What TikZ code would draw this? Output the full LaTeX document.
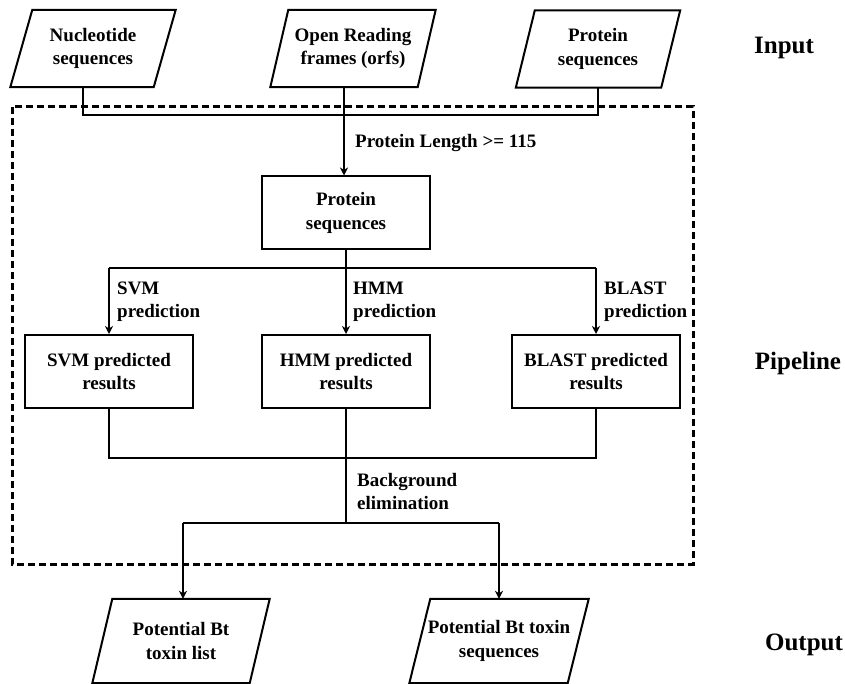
\documentclass[tikz,border=0pt]{standalone}
\usepackage{fontspec}
\setmainfont{Liberation Serif}
\usetikzlibrary{arrows.meta}
\begin{document}
\begin{tikzpicture}[x=1pt,y=-1pt,
  txt/.style={font=\fontsize{19}{23.5}\selectfont\bfseries, align=center, inner sep=0pt},
  lbl/.style={font=\fontsize{19}{23}\selectfont\bfseries, align=left, anchor=west, inner sep=0pt},
  side/.style={font=\fontsize{25}{30}\selectfont\bfseries, inner sep=0pt},
  para/.style={txt, rectangle, minimum height=77pt},
  boxn/.style={txt, rectangle, draw, line width=2pt, minimum width=168pt, minimum height=73pt},
  conn/.style={line width=2pt},
  arr/.style={line width=2pt, -{Stealth[length=8pt,width=8pt,inset=2.5pt]}},
  dashbox/.style={line width=3pt, dash pattern=on 7pt off 4pt},
  outline/.style={line width=2pt, line join=miter}
]
\useasboundingbox (0,0) rectangle (845,684);

% dashed pipeline frame
\draw[dashbox] (12,107) rectangle (693,564);

% input parallelograms
\node[para, minimum width=143pt] (nuc) at (93,48.5) {Nucleotide\\sequences};
\node[para, minimum width=147pt] (orf) at (353,48.5) {Open Reading\\frames (orfs)};
\node[para, minimum width=145pt] (prot) at (598,49) {Protein\\sequences};

% output parallelograms
\node[para, minimum width=157pt, minimum height=84pt] (outA) at (181,641) {Potential Bt\\toxin list};
\node[para, minimum width=158pt, minimum height=84pt] (outB) at (499,641) {Potential Bt toxin\\sequences};

\foreach \n/\s in {nuc/11, orf/9, prot/9.5, outA/10, outB/10.5}
  \draw[outline] ([xshift=-\s pt]\n.south west) -- ([xshift=-\s pt]\n.south east)
    -- ([xshift=\s pt]\n.north east) -- ([xshift=\s pt]\n.north west) -- cycle;

% pipeline boxes
\node[boxn] (pbox) at (346,213) {Protein\\sequences};
\node[boxn] (svm) at (109,371.5) {SVM predicted\\results};
\node[boxn] (hmm) at (346,371.5) {HMM predicted\\results};
\node[boxn] (blast) at (596,371.5) {BLAST predicted\\results};

% side labels
\node[side] (input) at (784,48) {Input};
\node[side] (pipe) at (798,363) {Pipeline};
\node[side] (output) at (804,645) {Output};

% input merge
\coordinate (jl) at (83,115);
\coordinate (jr) at (598,115);
\draw[conn] ([xshift=-10pt]nuc.south) -- (jl) -- (jr) -- (prot.south);
\draw[arr] ([xshift=-9pt]orf.south) -- ([xshift=-9pt]orf.south |- pbox.north);
\node[lbl] (lenlbl) at (355,143) {Protein Length >= 115};

% branch to predictors
\coordinate (br) at (346,268);
\draw[conn] (pbox.south) -- (br);
\draw[conn] (svm.north |- br) -- (blast.north |- br);
\draw[arr] (svm.north |- br) -- (svm.north);
\draw[arr] (br) -- (hmm.north);
\draw[arr] (blast.north |- br) -- (blast.north);
\node[lbl] (svmlbl) at (117,301.5) {SVM\\prediction};
\node[lbl] (hmmlbl) at (353,301.5) {HMM\\prediction};
\node[lbl] (blastlbl) at (604,301.5) {BLAST\\prediction};

% merge of predictions
\coordinate (mg) at (346,458);
\draw[conn] (svm.south) -- (svm.south |- mg) -- (blast.south |- mg) -- (blast.south);
\coordinate (sp) at (346,523);
\draw[conn] (hmm.south) -- (sp);
\node[lbl] (bglbl) at (357,491) {Background\\elimination};

% split to outputs
\coordinate (spl) at (183,523);
\coordinate (spr) at (499,523);
\draw[conn] (spl) -- (spr);
\draw[arr] (spl) -- (spl |- outA.north);
\draw[arr] (spr) -- (spr |- outB.north);
\end{tikzpicture}
\end{document}
